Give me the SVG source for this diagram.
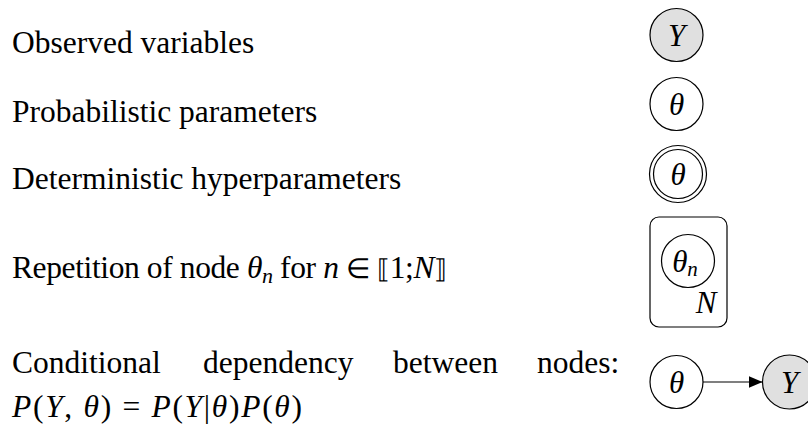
<svg xmlns="http://www.w3.org/2000/svg" width="808" height="429" viewBox="0 0 808 429">
<defs>
<style>
.t{font-family:"Liberation Serif","Times New Roman",serif;font-size:31.5px;fill:#000}
.i{font-style:italic}
.n{fill:#fff;stroke:#000;stroke-width:1.2}
.o{fill:#e0e0e0;stroke:#000;stroke-width:1.2}
.l{font-family:"Liberation Serif","Times New Roman",serif;font-style:italic;font-size:31px;fill:#000;text-anchor:middle}
</style>
<marker id="ah" viewBox="0 0 14 12" refX="14" refY="6" markerWidth="14" markerHeight="12" markerUnits="userSpaceOnUse" orient="auto">
<path d="M0,0 L14,6 L0,12 Z" fill="#000"/>
</marker>
</defs>
<rect width="808" height="429" fill="#fff"/>
<g id="labels">
<text class="t" x="12" y="53">Observed variables</text>
<text class="t" x="12" y="122">Probabilistic parameters</text>
<text class="t" x="12" y="189">Deterministic hyperparameters</text>
<text class="t" x="12" y="278" textLength="435" lengthAdjust="spacing">Repetition of node <tspan class="i">θ</tspan><tspan class="i" font-size="22" dy="5">n</tspan><tspan dy="-5"> for </tspan><tspan class="i">n</tspan> <tspan font-size="28">∈</tspan> <tspan font-family="DejaVu Serif,serif" font-size="26">⟦</tspan>1;<tspan class="i">N</tspan><tspan font-family="DejaVu Serif,serif" font-size="26">⟧</tspan></text>
<text class="t" x="12" y="373">Conditional</text>
<text class="t" x="203" y="373">dependency</text>
<text class="t" x="393" y="373">between</text>
<text class="t" x="537" y="373">nodes:</text>
<text class="t" x="12" y="417" textLength="290" lengthAdjust="spacing"><tspan class="i">P</tspan>(<tspan class="i">Y</tspan>, <tspan class="i">θ</tspan>) = <tspan class="i">P</tspan>(<tspan class="i">Y</tspan>|<tspan class="i">θ</tspan>)<tspan class="i">P</tspan>(<tspan class="i">θ</tspan>)</text>
</g>
<g id="node-observed">
<circle class="o" cx="676.5" cy="35" r="26.5"/>
<text class="l" x="676.5" y="46">Y</text>
</g>
<g id="node-probabilistic">
<circle class="n" cx="676.5" cy="104" r="26.5"/>
<text class="l" x="676.5" y="115">θ</text>
</g>
<g id="node-deterministic">
<circle class="n" cx="678" cy="174" r="28.5"/>
<circle class="n" cx="678" cy="174" r="24.5"/>
<text class="l" x="678" y="185">θ</text>
</g>
<g id="plate">
<rect class="n" x="650" y="217" width="77" height="110" rx="9"/>
<circle class="n" cx="688" cy="261" r="26.5"/>
<text class="l" x="685" y="272">θ<tspan font-size="21" dy="4">n</tspan></text>
<text class="l" x="706" y="313">N</text>
</g>
<g id="node-theta">
<circle class="n" cx="676.5" cy="382" r="26.5"/>
<text class="l" x="676.5" y="393">θ</text>
</g>
<g id="node-Y">
<circle class="o" cx="789.5" cy="382" r="27"/>
<text class="l" x="789.5" y="393">Y</text>
</g>
<g id="connectors">
<line x1="703" y1="382" x2="762.5" y2="382" stroke="#000" stroke-width="1.2" marker-end="url(#ah)"/>
</g>
</svg>
